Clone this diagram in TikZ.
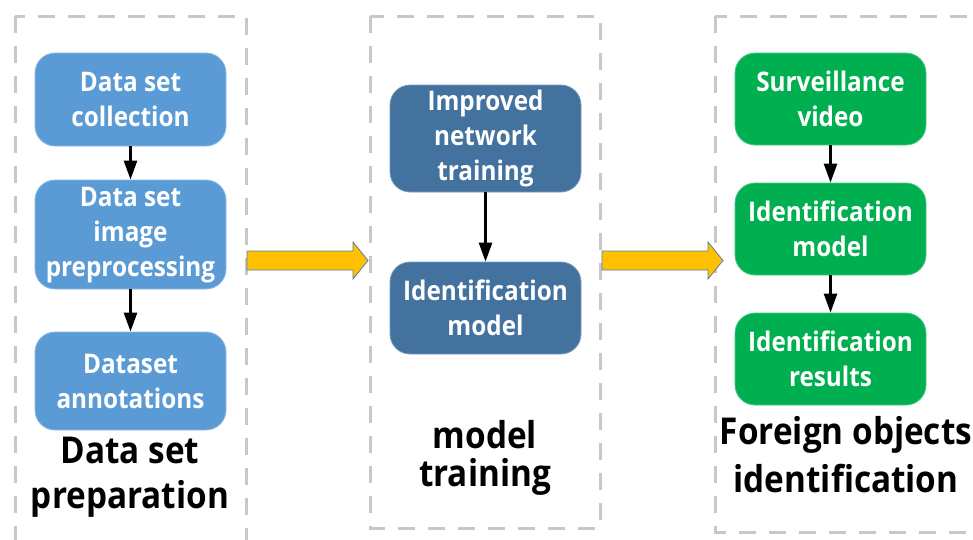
\documentclass[tikz,border=0pt]{standalone}
\usepackage{fontspec}
\setmainfont{Open Sans}[FakeStretch=0.9]
\usetikzlibrary{arrows.meta}

\definecolor{boxblue}{RGB}{91,155,213}
\definecolor{boxnavy}{RGB}{67,114,158}
\definecolor{boxgreen}{RGB}{0,176,80}
\definecolor{arrowgold}{RGB}{255,192,0}
\definecolor{arrowedge}{RGB}{90,125,165}
\definecolor{framegray}{RGB}{200,200,200}

\tikzset{
  frame/.style={draw=framegray, line width=3pt, dash pattern=on 17pt off 13pt},
  stepbox/.style={rounded corners=20pt, minimum width=191pt, inner sep=2pt,
    fill=#1, draw=#1!70!white, line width=0.8pt, text=white, align=center,
    font=\bfseries\fontsize{27}{35}\selectfont},
  flow/.style={draw=black, line width=2.6pt, -{Triangle[width=13pt,length=19pt]}},
  stagelabel/.style={align=center, text=black, inner sep=0pt},
  blockarrow/.style={fill=arrowgold, draw=arrowedge, line width=0.8pt, line join=miter},
}

\begin{document}
\begin{tikzpicture}[x=1pt,y=-1pt]
\useasboundingbox (0,0) rectangle (973,539);
\clip (0,0) rectangle (973,539);

% stage frames
\draw[frame] (15,16) rectangle (246,570);
\draw[frame] (370,16) rectangle (600,528);
\draw[frame] (715,16) rectangle (1000,532);

% data set preparation
\node[stepbox=boxblue, minimum height=93pt]  (c1) at (130.5,99.5) {Data set\\collection};
\node[stepbox=boxblue, minimum height=107pt] (c2) at (130.5,234.5) {\raisebox{-3pt}{\begin{tabular}{@{}c@{}}Data set\\image\\preprocessing\end{tabular}}};
\node[stepbox=boxblue, minimum height=98pt]  (c3) at (130.5,381) {Dataset\\annotations};
\draw[flow] (c1) -- (c2);
\draw[flow] (c2) -- (c3);
\node[stagelabel, font=\bfseries\fontsize{37}{45}\selectfont] (l1) at (130,477) {Data set\\preparation};

% model training
\node[stepbox=boxnavy, minimum height=107pt] (m1) at (485.5,138.5) {Improved\\network\\training};
\node[stepbox=boxnavy, minimum height=92pt]  (m2) at (485.5,308) {Identification\\model};
\draw[flow] (m1) -- (m2);
\node[stagelabel, font=\bfseries\fontsize{37}{38}\selectfont] (l2) at (485,458) {model\\training};

% foreign objects identification
\node[stepbox=boxgreen, minimum height=92pt] (r1) at (830.5,99) {Surveillance\\video};
\node[stepbox=boxgreen, minimum height=92pt] (r2) at (830.5,229) {Identification\\model};
\node[stepbox=boxgreen, minimum height=92pt] (r3) at (830.5,359) {Identification\\results};
\draw[flow] (r1) -- (r2);
\draw[flow] (r2) -- (r3);
\node[stagelabel, font=\bfseries\fontsize{37}{48}\selectfont] (l3) at (846,455) {Foreign objects\\identification};

% block arrows between the stages
\coordinate (a1) at (247,260.5);
\coordinate (a2) at (602,260.5);
\foreach \a in {a1,a2}{
  \draw[blockarrow] (\a) ++(0,-9.5) -- ++(106,0) -- ++(0,-9) -- ++(15,18.5)
    -- ++(-15,18.5) -- ++(0,-9) -- ++(-106,0) -- cycle;
}
\end{tikzpicture}
\end{document}
